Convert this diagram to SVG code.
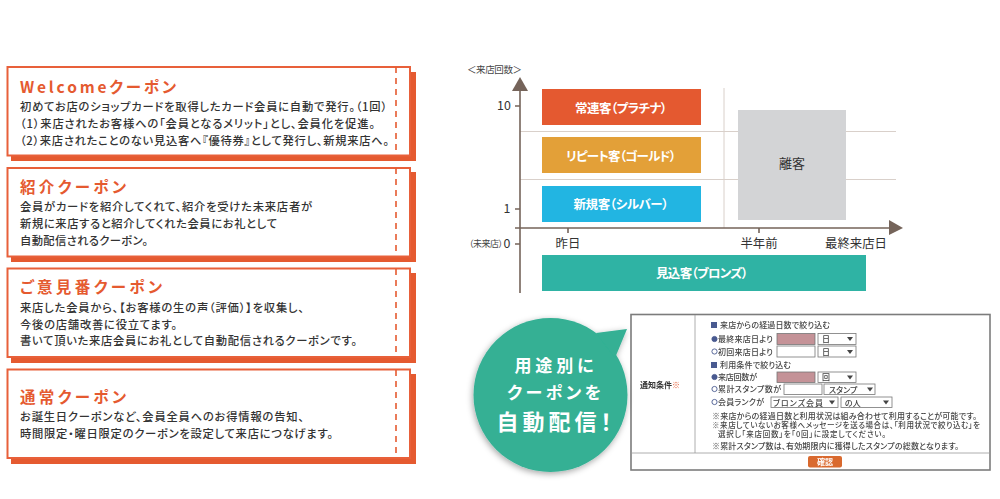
<svg xmlns="http://www.w3.org/2000/svg" width="1000" height="499" viewBox="0 0 1000 499">
<style>
text{font-family:"Noto Sans CJK JP","Noto Sans",sans-serif;font-feature-settings:"palt"}
.shadow{fill:#e55a30}
.card{fill:#fff;stroke:#e8603a;stroke-width:2}
.dash{stroke:#e55a30;stroke-width:1.6;stroke-dasharray:6 5;fill:none}
.title{fill:#e55a30;font-size:15.500px;font-weight:700}
.body{fill:#333;font-size:11.300px;font-weight:500}
.axis{stroke:#75645a;stroke-width:1.6;fill:none}
.arrow{fill:#75645a}
.grid{stroke:#d9d0ca;stroke-width:1;fill:none}
.band{font-size:12.500px;font-weight:700;fill:#fff;text-anchor:middle}
.lab{font-size:12.400px;fill:#333;text-anchor:middle}
.small{font-size:9.500px;fill:#444}
.bubble{fill:#fff;font-weight:700;text-anchor:middle}
.s{font-size:8px;fill:#444;font-weight:500}
.inp{stroke:#777;stroke-width:.8;fill:#fff}
.pink{stroke:#777;stroke-width:.8;fill:#c49297}
.btn{fill:#444}
.rad{fill:#fff;stroke:#4a5a90;stroke-width:.9}
.radon{fill:#4a5a90;stroke:#4a5a90;stroke-width:.9}
.chk{fill:#4a5a90}
</style>
<defs>
<filter id="bs" x="-20%" y="-20%" width="140%" height="140%"><feDropShadow dx="-1" dy="2" stdDeviation="3" flood-color="#000" flood-opacity=".35"/></filter>
<filter id="soft" x="-2%" y="-2%" width="104%" height="104%"><feGaussianBlur stdDeviation=".35"/></filter>
</defs>

<g id="card-welcome">
<rect class="shadow" x="11" y="72" width="405" height="89"/>
<rect class="card" x="7.500" y="67" width="402.500" height="88.500"/>
<path class="dash" d="M396 67V155"/>
<text class="title" x="20" y="93" textLength="156" lengthAdjust="spacing">Welcomeクーポン</text>
<text class="body" x="20" y="111" textLength="367" lengthAdjust="spacing">初めてお店のショップカードを取得したカード会員に自動で発行。（1回）</text>
<text class="body" x="20" y="128" textLength="355" lengthAdjust="spacing">（1）来店されたお客様への「会員となるメリット」とし、会員化を促進。</text>
<text class="body" x="20" y="145" textLength="369" lengthAdjust="spacing">（2）来店されたことのない見込客へ『優待券』として発行し、新規来店へ。</text>
</g>
<g id="card-referral">
<rect class="shadow" x="11" y="172" width="405" height="90"/>
<rect class="card" x="7.500" y="168" width="402.500" height="88.500"/>
<path class="dash" d="M396 168V256"/>
<text class="title" x="20" y="193" textLength="106" lengthAdjust="spacing">紹介クーポン</text>
<text class="body" x="20" y="211" textLength="292" lengthAdjust="spacing">会員がカードを紹介してくれて、紹介を受けた未来店者が</text>
<text class="body" x="20" y="228" textLength="257" lengthAdjust="spacing">新規に来店すると紹介してくれた会員にお礼として</text>
<text class="body" x="20" y="245" textLength="128" lengthAdjust="spacing">自動配信されるクーポン。</text>
</g>
<g id="card-opinion">
<rect class="shadow" x="11" y="273" width="405" height="90"/>
<rect class="card" x="7.500" y="268.500" width="402.500" height="88.500"/>
<path class="dash" d="M396 269V357"/>
<text class="title" x="20" y="293" textLength="142" lengthAdjust="spacing">ご意見番クーポン</text>
<text class="body" x="20" y="312" textLength="284" lengthAdjust="spacing">来店した会員から、【お客様の生の声（評価）】を収集し、</text>
<text class="body" x="20" y="329" textLength="157" lengthAdjust="spacing">今後の店舗改善に役立てます。</text>
<text class="body" x="20" y="345" textLength="337" lengthAdjust="spacing">書いて頂いた来店会員にお礼として自動配信されるクーポンです。</text>
</g>
<g id="card-regular">
<rect class="shadow" x="11" y="374" width="405" height="90"/>
<rect class="card" x="7.500" y="369.500" width="402.500" height="88.500"/>
<path class="dash" d="M396 370V458"/>
<text class="title" x="20" y="403" textLength="106" lengthAdjust="spacing">通常クーポン</text>
<text class="body" x="20" y="421" textLength="284" lengthAdjust="spacing">お誕生日クーポンなど、会員全員へのお得情報の告知、</text>
<text class="body" x="20" y="438" textLength="313" lengthAdjust="spacing">時間限定・曜日限定のクーポンを設定して来店につなげます。</text>
</g>

<g id="connectors">
<path class="grid" d="M520 131.500H896M520 179.500H896M724 88V228"/>
<path class="axis" d="M520 88V293M515 228H892M515 106H520M515 209H520M515 244H520M568 228V233M759 228V233"/>
<polygon class="arrow" points="520,77 528,91 512,91"/>
<polygon class="arrow" points="903,228 889,220 889,235"/>
</g>

<g id="axis-labels">
<text class="small" x="467" y="73" textLength="55" lengthAdjust="spacing">＜来店回数＞</text>
<text class="lab" x="504" y="110">10</text>
<text class="lab" x="507" y="213">1</text>
<text class="small" x="469" y="247" style="font-size:9px" textLength="34" lengthAdjust="spacing">（未来店）</text>
<text class="lab" x="507" y="248">0</text>
<text class="lab" x="568" y="248">昨日</text>
<text class="lab" x="759" y="248">半年前</text>
<text class="lab" x="856" y="248">最終来店日</text>
</g>
<g id="band-platinum"><rect x="542" y="89" width="159" height="36" fill="#e45930"/><text class="band" x="621" y="113" textLength="92" lengthAdjust="spacing">常連客（プラチナ）</text></g>
<g id="band-gold"><rect x="542" y="137" width="159" height="36" fill="#e3a038"/><text class="band" x="621" y="161" textLength="110" lengthAdjust="spacing">リピート客（ゴールド）</text></g>
<g id="band-silver"><rect x="542" y="186" width="159" height="36" fill="#22b5e2"/><text class="band" x="621" y="209" textLength="95" lengthAdjust="spacing">新規客（シルバー）</text></g>
<g id="band-bronze"><rect x="542" y="255" width="324" height="36" fill="#2fb3a4"/><text class="band" x="702" y="278" textLength="92" lengthAdjust="spacing">見込客（ブロンズ）</text></g>
<g id="band-lost"><rect x="738" y="110" width="108" height="110" fill="#d3d4d6"/><text class="lab" x="792" y="168" style="font-size:13px">離客</text></g>

<g id="screenshot" filter="url(#soft)">
<rect x="631" y="314.500" width="359" height="155.500" fill="#fff" stroke="#7c7c7c" stroke-width="1.600"/>
<path d="M695 315V453M631 453H990" stroke="#999" stroke-width=".8" fill="none"/>
<text x="640" y="388" style="font-size:8px;font-weight:700;fill:#333">通知条件<tspan fill="#e55a30">※</tspan></text>
<rect class="chk" x="711" y="322" width="6" height="6"/>
<text class="s" x="720" y="328" textLength="110" lengthAdjust="spacing">来店からの経過日数で絞り込む</text>
<circle class="radon" cx="714.500" cy="339" r="2.600"/>
<text class="s" x="718" y="342" textLength="55" lengthAdjust="spacing">最終来店日より</text>
<rect class="pink" x="777" y="333.500" width="38" height="11"/>
<rect class="inp" x="818" y="333.500" width="38" height="11"/>
<text class="s" x="822" y="342">日</text><polygon class="btn" points="847,337 853,337 850,341"/>
<circle class="rad" cx="714.500" cy="351.500" r="2.600"/>
<text class="s" x="718" y="354.500" textLength="55" lengthAdjust="spacing">初回来店日より</text>
<rect class="inp" x="777" y="346" width="38" height="11"/>
<rect class="inp" x="818" y="346" width="38" height="11"/>
<text class="s" x="822" y="354.500">日</text><polygon class="btn" points="847,350 853,350 850,354"/>
<rect class="chk" x="711" y="362" width="6" height="6"/>
<text class="s" x="720" y="368" textLength="71" lengthAdjust="spacing">利用条件で絞り込む</text>
<circle class="radon" cx="714.500" cy="377" r="2.600"/>
<text class="s" x="718" y="380" textLength="39" lengthAdjust="spacing">来店回数が</text>
<rect class="pink" x="777" y="372" width="38" height="10.500"/>
<rect class="inp" x="818" y="372" width="38" height="10.500"/>
<text class="s" x="822" y="380">回</text><polygon class="btn" points="847,375.500 853,375.500 850,379.500"/>
<circle class="rad" cx="714.500" cy="389" r="2.600"/>
<text class="s" x="718" y="392" textLength="63" lengthAdjust="spacing">累計スタンプ数が</text>
<rect class="inp" x="784" y="384" width="38" height="10.500"/>
<rect class="inp" x="824" y="384" width="51" height="10.500"/>
<text class="s" x="829" y="392.500">スタンプ</text><polygon class="btn" points="867,387.500 873,387.500 870,391.500"/>
<circle class="rad" cx="714.500" cy="402" r="2.600"/>
<text class="s" x="718" y="405" textLength="46" lengthAdjust="spacing">会員ランクが</text>
<rect class="inp" x="771" y="397" width="67" height="10.500"/>
<text class="s" x="773" y="405.500" textLength="50" lengthAdjust="spacing">ブロンズ会員</text><polygon class="btn" points="829,400.500 835,400.500 832,404.500"/>
<rect class="inp" x="841" y="397" width="51" height="10.500"/>
<text class="s" x="845" y="405.500">の人</text><polygon class="btn" points="883,400.500 889,400.500 886,404.500"/>
<text class="s" x="712" y="419" textLength="265" lengthAdjust="spacing">※来店からの経過日数と利用状況は組み合わせて利用することが可能です。</text>
<text class="s" x="712" y="428" style="font-size:7.500px" textLength="268" lengthAdjust="spacing">※来店していないお客様へメッセージを送る場合は、「利用状況で絞り込む」を</text>
<text class="s" x="718" y="437" style="font-size:7.500px" textLength="168" lengthAdjust="spacing">選択し「来店回数」を「0回」に設定してください。</text>
<text class="s" x="712" y="449" textLength="247" lengthAdjust="spacing">※累計スタンプ数は、有効期限内に獲得したスタンプの総数となります。</text>
<rect x="808" y="456" width="34" height="11.500" rx="2" fill="#d9692f"/>
<text x="825" y="465" style="font-size:8px;font-weight:700;fill:#fff;text-anchor:middle">確認</text>
</g>

<g id="bubble">
<g filter="url(#bs)" fill="#34b094">
<circle cx="550.500" cy="395" r="77"/>
<polygon points="596,333 627,329 615,358"/>
</g>
<text class="bubble" x="554" y="372" style="font-size:17px" textLength="79" lengthAdjust="spacing">用途別に</text>
<text class="bubble" x="554" y="399" style="font-size:17px" textLength="94" lengthAdjust="spacing">クーポンを</text>
<text class="bubble" x="554" y="430" style="font-size:22px" textLength="115" lengthAdjust="spacing">自動配信！</text>
</g>
</svg>
